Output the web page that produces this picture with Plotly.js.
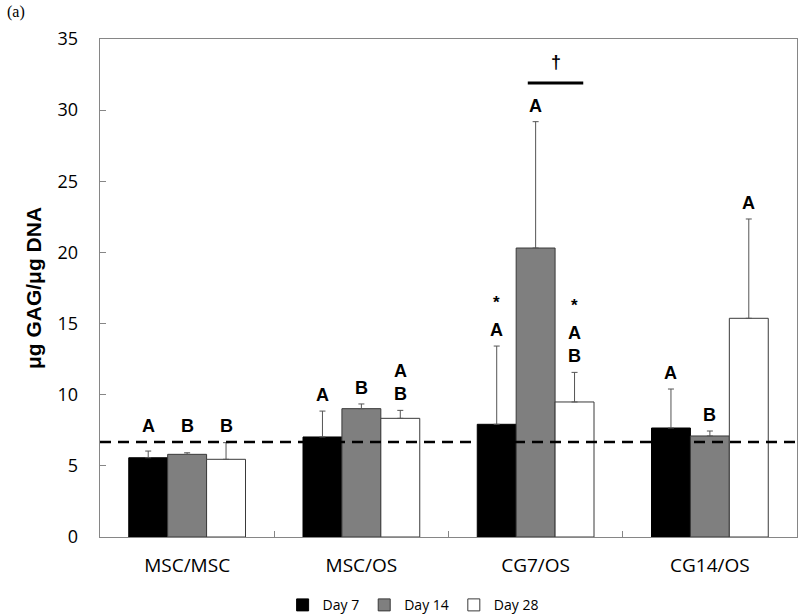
<!DOCTYPE html>
<html>
<head>
<meta charset="utf-8">
<script src="https://cdn.plot.ly/plotly-3.0.1.min.js"></script>
<style>html,body{margin:0;padding:0;background:#fff;}#chart{width:800px;height:614px;}</style>
</head>
<body>
<div id="chart"></div>
<script>
// ---- data ----
const categories = ['MSC/MSC', 'MSC/OS', 'CG7/OS', 'CG14/OS'];
const seriesNames = ['Day 7', 'Day 14', 'Day 28'];
const day7 = [5.57, 7.03, 7.92, 7.66];
const day7Err = [0.47, 1.82, 5.50, 2.74];
const day14 = [5.81, 9.02, 20.31, 7.10];
const day14Err = [0.11, 0.33, 8.88, 0.35];
const day28 = [5.46, 8.34, 9.49, 15.37];
const day28Err = [1.17, 0.56, 2.08, 6.98];
// significance letters, listed bottom to top
const day7Letters = [['A'], ['A'], ['A', '*'], ['A']];
const day14Letters = [['B'], ['B'], ['A'], ['B']];
const day28Letters = [['B'], ['B', 'A'], ['B', 'A', '*'], ['A']];
const baseline = 6.68;          // dashed reference level
const daggerGroup = 'CG7/OS';   // † between Day 14 and Day 28
const daggerLevel = 31.9;

// ---- styling ----
const fills = ['#000000', '#7f7f7f', '#ffffff'];
const outlines = ['#000000', '#3a3a3a', '#3a3a3a'];
const axisCol = '#868686';
const bargap = 0.33;
const barW = (1 - bargap) / 3;
const offsets = [-barW, 0, barW];

const vals = [day7, day14, day28];
const errs = [day7Err, day14Err, day28Err];
const letters = [day7Letters, day14Letters, day28Letters];

const traces = vals.map((v, s) => ({
  type: 'bar',
  name: seriesNames[s],
  x: categories,
  y: v,
  marker: {color: fills[s], line: {color: outlines[s], width: 1}},
  error_y: {type: 'data', symmetric: false, array: errs[s], arrayminus: v.map(() => 0),
            color: '#555555', thickness: 1, width: 3},
  hoverinfo: 'skip'
}));

const annotations = [];
letters.forEach((ser, s) => {
  ser.forEach((stack, i) => {
    const top = Math.max(vals[s][i] + errs[s][i], baseline);
    let shift = 16;
    stack.forEach((t, k) => {
      if (k > 0) shift += (t === '*') ? 28 : 23;
      annotations.push({
        x: i + offsets[s], y: top, xref: 'x', yref: 'y',
        text: t, showarrow: false, yanchor: 'middle', yshift: shift,
        font: t === '*' ? {family: 'Liberation Sans', size: 17, color: '#000', weight: 'bold'}
                        : {family: 'Liberation Sans', size: 18, color: '#000', weight: 'bold'}
      });
    });
  });
});
const gi = categories.indexOf(daggerGroup);
annotations.push({
  x: gi + (offsets[1] + offsets[2]) / 2 + 0.005, y: daggerLevel, xref: 'x', yref: 'y',
  text: '†', showarrow: false, yanchor: 'middle', yshift: 21,
  font: {family: 'Liberation Sans', size: 18, color: '#000', weight: 'bold'}
});
annotations.push({
  x: -0.136, y: 1.054, xref: 'paper', yref: 'paper', xanchor: 'left', yanchor: 'middle',
  text: '(a)', showarrow: false, font: {family: 'Liberation Serif', size: 16, color: '#000'}
});

const shapes = [
  {type: 'line', xref: 'paper', yref: 'y', x0: 0, x1: 1, y0: baseline, y1: baseline,
   line: {color: '#000', width: 2.5, dash: '11px,7px'}},
  {type: 'line', xref: 'x', yref: 'y', x0: gi + offsets[1] - 0.045, x1: gi + offsets[2] + 0.05,
   y0: daggerLevel, y1: daggerLevel, line: {color: '#000', width: 3}}
];

const layout = {
  width: 800, height: 614,
  margin: {l: 100, r: 3, t: 39, b: 77, autoexpand: false},
  paper_bgcolor: '#fff', plot_bgcolor: '#fff',
  barmode: 'group', bargap: bargap, bargroupgap: 0,
  font: {family: 'Open Sans', color: '#000'},
  xaxis: {type: 'category', showline: true, mirror: true, linecolor: axisCol, linewidth: 1.3,
          ticks: 'inside', tickson: 'boundaries', ticklen: 6, tickcolor: axisCol,
          tickfont: {family: 'Open Sans', size: 19, color: '#000'}, ticklabelstandoff: 11,
          showgrid: false, zeroline: false, range: [-0.5, 3.5], automargin: false},
  yaxis: {range: [0, 35], dtick: 5, showline: true, mirror: true, linecolor: axisCol, linewidth: 1.3,
          ticks: 'inside', ticklen: 6, tickcolor: axisCol,
          tickfont: {family: 'Open Sans', size: 18, color: '#000'}, ticklabelstandoff: 17,
          showgrid: false, zeroline: false, automargin: false,
          title: {text: 'μg GAG/μg DNA', standoff: 10,
                  font: {family: 'Liberation Sans', size: 21, color: '#000', weight: 'bold'}}},
  showlegend: true,
  legend: {orientation: 'h', x: 0.262, xanchor: 'left', y: -0.105, yanchor: 'top',
           font: {family: 'Open Sans', size: 14, color: '#000'},
           itemwidth: 30, bgcolor: 'rgba(0,0,0,0)', traceorder: 'normal'},
  annotations: annotations,
  shapes: shapes
};

Plotly.newPlot('chart', traces, layout, {displayModeBar: false, staticPlot: true});
</script>
</body>
</html>
